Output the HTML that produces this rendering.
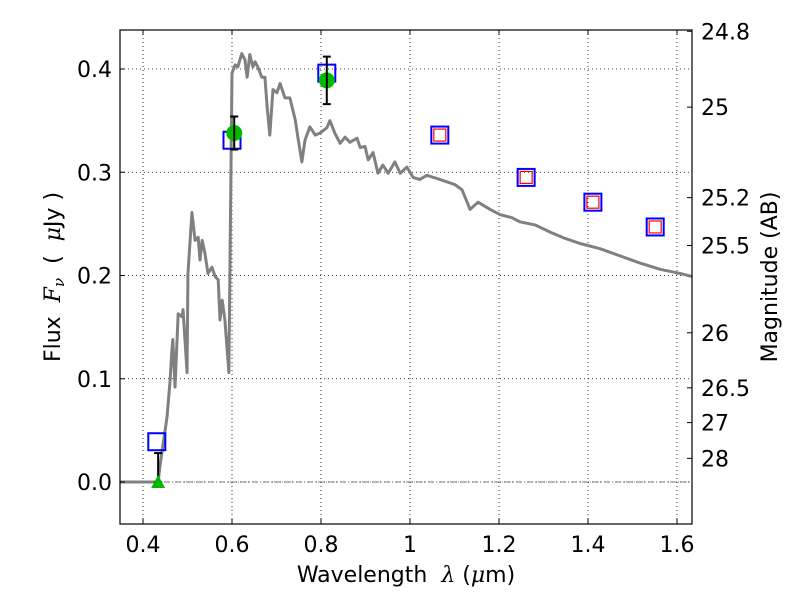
<!DOCTYPE html>
<html><head><meta charset="utf-8"><style>
body{margin:0;background:#fff;}
svg{display:block;font-family:"DejaVu Sans","Liberation Sans",sans-serif;}
.pre{white-space:pre;}
</style></head><body>
<svg id="chart" width="800" height="600" viewBox="0 0 800 600" xmlns="http://www.w3.org/2000/svg"></svg>
<script>
const specWave=[0.348,0.434,0.438,0.454,0.461,0.465,0.467,0.472,0.479,0.488,0.490,0.499,0.501,0.510,0.517,0.524,0.528,0.533,0.539,0.546,0.555,0.562,0.569,0.573,0.578,0.584,0.593,0.596,0.600,0.607,0.613,0.622,0.629,0.634,0.640,0.647,0.652,0.658,0.667,0.674,0.679,0.685,0.692,0.701,0.708,0.719,0.730,0.742,0.748,0.757,0.764,0.775,0.787,0.798,0.813,0.820,0.831,0.843,0.854,0.865,0.881,0.888,0.899,0.906,0.917,0.928,0.939,0.951,0.966,0.978,0.993,1.007,1.022,1.038,1.067,1.101,1.117,1.135,1.153,1.180,1.202,1.229,1.247,1.281,1.315,1.348,1.382,1.427,1.472,1.517,1.562,1.607,1.634];
const specFlux=[0,0,0.015,0.063,0.099,0.128,0.138,0.092,0.163,0.160,0.167,0.106,0.202,0.261,0.234,0.237,0.215,0.234,0.222,0.202,0.208,0.199,0.196,0.157,0.176,0.157,0.106,0.234,0.396,0.404,0.402,0.415,0.409,0.392,0.414,0.402,0.407,0.402,0.392,0.392,0.363,0.336,0.380,0.377,0.386,0.372,0.372,0.351,0.334,0.310,0.331,0.344,0.336,0.338,0.343,0.350,0.338,0.328,0.334,0.329,0.333,0.324,0.325,0.312,0.319,0.299,0.307,0.299,0.310,0.299,0.305,0.295,0.293,0.297,0.293,0.288,0.283,0.264,0.271,0.264,0.259,0.256,0.252,0.249,0.242,0.236,0.231,0.226,0.219,0.212,0.206,0.202,0.199];
const modelWave=[0.431,0.600,0.813,1.067,1.261,1.411,1.551];
const modelFlux=[0.039,0.331,0.396,0.336,0.295,0.271,0.247];
const nirWave=[1.067,1.261,1.411,1.551];
const nirFlux=[0.336,0.295,0.271,0.247];
const detWave=[0.605,0.813];
const detFlux=[0.338,0.389];
const detLo=[0.322,0.366];
const detHi=[0.354,0.412];
const limWave=[0.434];
const limFlux=[0];
const limHi=[0.028];
const xTicks=[0.4,0.6,0.8,1.0,1.2,1.4,1.6];
const xTickLabels=["0.4","0.6","0.8","1","1.2","1.4","1.6"];
const yTicks=[0,0.1,0.2,0.3,0.4];
const yTickLabels=["0.0","0.1","0.2","0.3","0.4"];
const magTicks=[24.8,25,25.3,25.5,26,26.5,27,28];
const magTickLabels=["24.8","25","25.2","25.5","26","26.5","27","28"];

const L=120,R=692,T=30,B=524;
const X=v=>143+(v-0.4)*445;
const Y=v=>482-v*1032.5;
const magY=m=>Y(Math.pow(10,(23.9-m)/2.5));
const svg=document.getElementById('chart');
const NS='http://www.w3.org/2000/svg';
function el(tag,attrs,parent){const e=document.createElementNS(NS,tag);for(const k in attrs)e.setAttribute(k,attrs[k]);(parent||svg).appendChild(e);return e;}

const defs=el('defs',{});const cp=el('clipPath',{id:'clip'},defs);el('rect',{x:L,y:T,width:R-L,height:B-T},cp);

const grid=el('g',{stroke:'#000','stroke-width':0.8,'stroke-dasharray':'1,3',fill:'none'});


xTicks.forEach(v=>el('line',{x1:X(v),x2:X(v),y1:T,y2:B},grid));
yTicks.forEach(v=>el('line',{x1:L,x2:R,y1:Y(v),y2:Y(v)},grid));
const zl=el('line',{x1:L,x2:R,y1:Y(0),y2:Y(0),stroke:'#555','stroke-width':0.8,'stroke-dasharray':'6,2,1,2'});



const sp=el('polyline',{points:specWave.map((w,i)=>X(w)+','+Y(specFlux[i])).join(' '),fill:'none',stroke:'#808080','stroke-width':3,'clip-path':'url(#clip)','stroke-linejoin':'round'});



modelWave.forEach((w,i)=>{const r=el('rect',{x:X(w)-8.5,y:Y(modelFlux[i])-8.5,width:17,height:17,fill:'none',stroke:'#0000ff','stroke-width':2});

});
nirWave.forEach((w,i)=>{const r=el('rect',{x:X(w)-6,y:Y(nirFlux[i])-6,width:12,height:12,fill:'none',stroke:'#ff0000','stroke-width':1.2});

});

limWave.forEach((w,i)=>{const g=el('g',{stroke:'#000','stroke-width':2});


el('line',{x1:X(w),x2:X(w),y1:Y(limFlux[i]),y2:Y(limHi[i])},g);
el('line',{x1:X(w)-4,x2:X(w)+4,y1:Y(limHi[i]),y2:Y(limHi[i])},g);
el('line',{x1:X(w)-4,x2:X(w)+4,y1:Y(limFlux[i]),y2:Y(limFlux[i])},g);
const x=X(w),y=Y(limFlux[i]);
const t=el('polygon',{points:`${x},${y-7} ${x-7},${y+6} ${x+7},${y+6}`,fill:'#00bb00','clip-path':'url(#clip)'});

});

detWave.forEach((w,i)=>{const c=el('circle',{cx:X(w),cy:Y(detFlux[i]),r:8,fill:'#00bb00'});


const g=el('g',{stroke:'#000','stroke-width':2});


el('line',{x1:X(w),x2:X(w),y1:Y(detLo[i]),y2:Y(detHi[i])},g);
el('line',{x1:X(w)-4,x2:X(w)+4,y1:Y(detLo[i]),y2:Y(detLo[i])},g);
el('line',{x1:X(w)-4,x2:X(w)+4,y1:Y(detHi[i]),y2:Y(detHi[i])},g);});

const fr=el('rect',{x:L,y:T,width:R-L,height:B-T,fill:'none',stroke:'#000','stroke-width':1.2});



const FS=22;
const tk=el('g',{stroke:'#000','stroke-width':1});
xTicks.forEach((v,i)=>{el('line',{x1:X(v),x2:X(v),y1:B,y2:B-5},tk);el('line',{x1:X(v),x2:X(v),y1:T,y2:T+5},tk);
const t=el('text',{x:X(v),y:B+28,'font-size':FS,'text-anchor':'middle'});t.textContent=xTickLabels[i];

});
yTicks.forEach((v,i)=>{el('line',{x1:L,x2:L+5,y1:Y(v),y2:Y(v)},tk);
const t=el('text',{x:L-8,y:Y(v)+8,'font-size':FS,'text-anchor':'end'});t.textContent=yTickLabels[i];

});
magTicks.forEach((m,i)=>{el('line',{x1:R-5,x2:R,y1:magY(m),y2:magY(m)},tk);
const t=el('text',{x:R+9,y:magY(m)+8,'font-size':FS});t.textContent=magTickLabels[i];

});

const xt=el('text',{x:406,y:582,'font-size':FS,'text-anchor':'middle','class':'pre'});
xt.innerHTML='Wavelength  <tspan font-style="italic" font-family="DejaVu Serif,serif">λ</tspan> (<tspan font-style="italic" font-family="DejaVu Serif,serif">μ</tspan>m)';


const yt=el('text',{x:0,y:0,'font-size':FS,'text-anchor':'middle','class':'pre',transform:'translate(60,277) rotate(-90)'});
yt.innerHTML='Flux  <tspan font-style="italic" font-family="DejaVu Serif,serif">F<tspan font-size="15" dy="4">ν</tspan></tspan><tspan dy="-4">  (  </tspan><tspan font-style="italic" font-family="DejaVu Serif,serif">μ</tspan>Jy )';


const rt=el('text',{x:0,y:0,'font-size':FS,'text-anchor':'middle',transform:'translate(777,277) rotate(-90)'});
rt.textContent='Magnitude (AB)';


</script>
</body></html>
